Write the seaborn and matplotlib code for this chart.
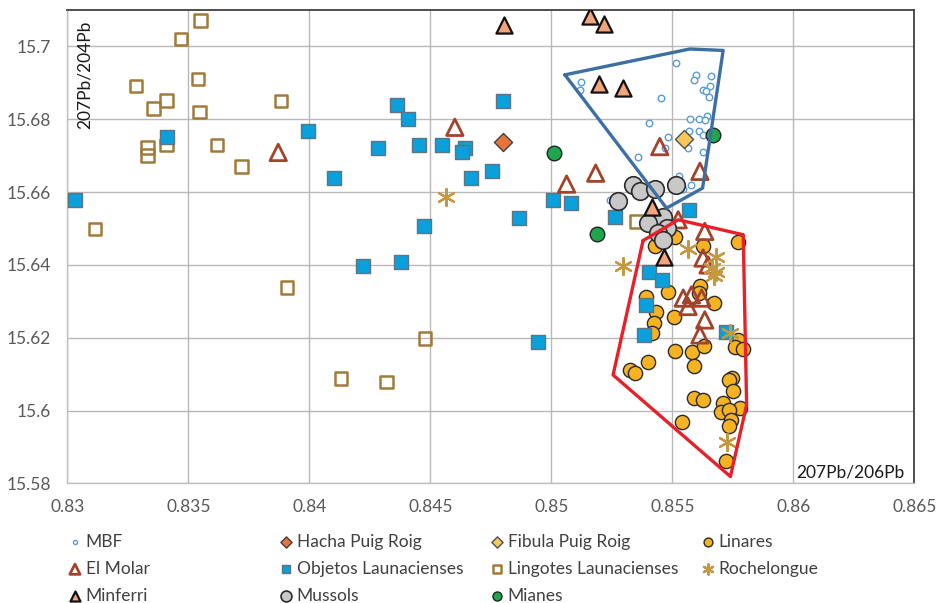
import pandas as pd
import matplotlib
matplotlib.use("Agg")
import matplotlib.pyplot as plt
import seaborn as sns
from matplotlib.ticker import FuncFormatter, MultipleLocator

# 207Pb/206Pb (x) and 207Pb/204Pb (y) per group
mbf_x = [0.85121, 0.85118, 0.85517, 0.85596, 0.85590, 0.85659, 0.85655, 0.85625, 0.85641, 0.85652,
         0.85452, 0.85644, 0.85572, 0.85610, 0.85634, 0.85404, 0.85569, 0.85610, 0.85625, 0.85480,
         0.85565, 0.85469, 0.85627, 0.85356, 0.85526, 0.85579, 0.85545, 0.85242]
mbf_y = [15.6902, 15.6881, 15.6954, 15.6922, 15.6909, 15.6920, 15.6892, 15.6881, 15.6879, 15.6860,
         15.6858, 15.6810, 15.6801, 15.6801, 15.6799, 15.6790, 15.6768, 15.6768, 15.6757, 15.6750,
         15.6721, 15.6721, 15.6710, 15.6696, 15.6643, 15.6620, 15.6608, 15.6579]

hacha_x = [0.84801]
hacha_y = [15.6737]

fibula_x = [0.85548]
fibula_y = [15.6746]

linares_x = [0.85428, 0.85625, 0.85772, 0.85480, 0.85614, 0.85611, 0.85673, 0.85432, 0.85425, 0.85393,
             0.85506, 0.85414, 0.85513, 0.85582, 0.85631, 0.85772, 0.85761, 0.85793, 0.85590, 0.85400,
             0.85324, 0.85345, 0.85745, 0.85735, 0.85751, 0.85590, 0.85625, 0.85710, 0.85779, 0.85703,
             0.85733, 0.85742, 0.85735, 0.85538, 0.85721, 0.85510]
linares_y = [15.6452, 15.6452, 15.6462, 15.6327, 15.6341, 15.6324, 15.6295, 15.6272, 15.6240, 15.6313,
             15.6258, 15.6214, 15.6164, 15.6160, 15.6178, 15.6194, 15.6176, 15.6169, 15.6123, 15.6133,
             15.6112, 15.6103, 15.6089, 15.6084, 15.6054, 15.6036, 15.6029, 15.6022, 15.6008, 15.5997,
             15.6002, 15.5975, 15.5958, 15.5968, 15.5863, 15.6478]

molar_x = [0.83871, 0.84601, 0.85063, 0.85183, 0.85448, 0.85614, 0.85524, 0.85634, 0.85627, 0.85648,
           0.85545, 0.85579, 0.85565, 0.85621, 0.85634, 0.85614]
molar_y = [15.6709, 15.6778, 15.6622, 15.6652, 15.6725, 15.6657, 15.6524, 15.6492, 15.6419, 15.6400,
           15.6309, 15.6318, 15.6286, 15.6309, 15.6249, 15.6208]

objetos_x = [0.83410, 0.83993, 0.84101, 0.83030, 0.84363, 0.84407, 0.84282, 0.84451, 0.84548, 0.84641,
             0.84631, 0.84802, 0.84669, 0.84755, 0.85007, 0.85081, 0.84866, 0.84474, 0.84221, 0.84379,
             0.84943, 0.85262, 0.85568, 0.85402, 0.85459, 0.85393, 0.85382, 0.85720]
objetos_y = [15.6751, 15.6769, 15.6639, 15.6578, 15.6840, 15.6801, 15.6721, 15.6730, 15.6730, 15.6721,
             15.6710, 15.6850, 15.6639, 15.6659, 15.6578, 15.6569, 15.6529, 15.6508, 15.6398, 15.6408,
             15.6188, 15.6533, 15.6551, 15.6380, 15.6359, 15.6290, 15.6208, 15.6215]

lingotes_x = [0.83550, 0.83469, 0.83282, 0.83540, 0.83410, 0.83355, 0.83545, 0.83882, 0.83410, 0.83330,
              0.83331, 0.83619, 0.83720, 0.83114, 0.83908, 0.84478, 0.84131, 0.84319, 0.85352]
lingotes_y = [15.7071, 15.7020, 15.6891, 15.6911, 15.6851, 15.6830, 15.6820, 15.6850, 15.6730, 15.6723,
              15.6700, 15.6730, 15.6670, 15.6499, 15.6338, 15.6198, 15.6088, 15.6078, 15.6519]

roche_x = [0.84564, 0.85294, 0.85565, 0.85680, 0.85663, 0.85680, 0.85672, 0.85738, 0.85724]
roche_y = [15.6586, 15.6396, 15.6444, 15.6423, 15.6392, 15.6381, 15.6370, 15.6213, 15.5915]

minferri_x = [0.84805, 0.85159, 0.85217, 0.85198, 0.85294, 0.85414, 0.85466]
minferri_y = [15.7060, 15.7084, 15.7062, 15.6897, 15.6885, 15.6560, 15.6423]

mussols_x = [0.85338, 0.85366, 0.85428, 0.85517, 0.85276, 0.85462, 0.85400, 0.85476, 0.85441, 0.85462]
mussols_y = [15.6620, 15.6602, 15.6608, 15.6620, 15.6576, 15.6533, 15.6515, 15.6501, 15.6487, 15.6469]

mianes_x = [0.85012, 0.85670, 0.85187]
mianes_y = [15.6707, 15.6756, 15.6486]

# outline polygons
blue_poly_x = [0.85056, 0.85572, 0.85710, 0.85625, 0.85476, 0.85056]
blue_poly_y = [15.6922, 15.6993, 15.6989, 15.6611, 15.6556, 15.6922]
red_poly_x = [0.85379, 0.85524, 0.85793, 0.85807, 0.85740, 0.85255, 0.85379]
red_poly_y = [15.6467, 15.6524, 15.6483, 15.6016, 15.5819, 15.6098, 15.6467]

sns.set_style("white")
plt.rcParams['font.family'] = ['Lato', 'DejaVu Sans']

fig = plt.figure(figsize=(9.36, 6.03), dpi=100)
ax = fig.add_axes([0.0721, 0.1982, 0.9047, 0.7852])

# name, x, y, marker, size, face, edge, linewidth, zorder
groups = [
    ("Linares", linares_x, linares_y, "o", 105, "#f5b223", "#2b2b2b", 1.0, 3),
    ("Lingotes Launacienses", lingotes_x, lingotes_y, "s", 80, "none", "#a07b3a", 1.8, 3),
    ("Objetos Launacienses", objetos_x, objetos_y, "s", 90, "#0aa0dc", "#5f7482", 1.0, 4),
    ("El Molar", molar_x, molar_y, "^", 140, "none", "#a3432b", 2.0, 5),
    ("Rochelongue", roche_x, roche_y, (6, 2, 0), 150, "#c4983e", "#c4983e", 1.6, 5),
    ("MBF", mbf_x, mbf_y, "o", 22, "white", "#5b9bd5", 1.0, 4),
    ("Hacha Puig Roig", hacha_x, hacha_y, "D", 85, "#e8733d", "#404040", 1.0, 6),
    ("Fibula Puig Roig", fibula_x, fibula_y, "D", 85, "#f6c85c", "#505050", 1.0, 6),
    ("Mianes", mianes_x, mianes_y, "o", 110, "#1fa64d", "#222222", 1.0, 6),
    ("Mussols", mussols_x, mussols_y, "o", 160, "#c8c8c8", "#2b2b2b", 1.2, 6),
    ("Minferri", minferri_x, minferri_y, "^", 135, "#f2a47c", "#111111", 1.6, 8),
]

handles = {}
for name, xs, ys, mk, s, fc, ec, lw, z in groups:
    df = pd.DataFrame({"x": xs, "y": ys})
    sns.scatterplot(data=df, x="x", y="y", marker=mk, s=s, color=fc if fc != "none" else ec,
                    facecolor=fc, edgecolor=ec, linewidth=lw, zorder=z, label=name, ax=ax, legend=False)
    handles[name] = ax.collections[-1]

sns.lineplot(x=blue_poly_x, y=blue_poly_y, sort=False, estimator=None, color="#3d6fa3",
             linewidth=2.4, zorder=7, ax=ax, legend=False)
sns.lineplot(x=red_poly_x, y=red_poly_y, sort=False, estimator=None, color="#e8202a",
             linewidth=2.4, zorder=7, ax=ax, legend=False)

if ax.get_legend() is not None:
    ax.get_legend().remove()

ax.set_xlim(0.83, 0.865)
ax.set_ylim(15.58, 15.71)
ax.xaxis.set_major_locator(MultipleLocator(0.005))
ax.yaxis.set_major_locator(MultipleLocator(0.02))
ax.xaxis.set_major_formatter(FuncFormatter(lambda v, p: f"{round(v, 4):g}"))
ax.yaxis.set_major_formatter(FuncFormatter(lambda v, p: f"{round(v, 3):g}"))
ax.tick_params(axis="both", length=0, labelsize=12.5, labelcolor="#595959")
ax.tick_params(axis="x", pad=11)
ax.tick_params(axis="y", pad=12)
ax.grid(True, color="#b8b8b8", linewidth=1)
ax.set_axisbelow(True)
ax.set_xlabel("")
ax.set_ylabel("")

for side in ["top", "right"]:
    ax.spines[side].set_color("#404040")
    ax.spines[side].set_linewidth(1.3)
for side in ["left", "bottom"]:
    ax.spines[side].set_color("#bfbfbf")
    ax.spines[side].set_linewidth(1.0)

ax.text(0.0207, 0.863, "207Pb/204Pb", rotation=90, transform=ax.transAxes,
        ha="center", va="center", fontsize=12.5, color="#1a1a1a")
ax.text(0.925, 0.024, "207Pb/206Pb", transform=ax.transAxes,
        ha="center", va="center", fontsize=12.5, color="#1a1a1a")

columns = [
    ["MBF", "El Molar", "Minferri"],
    ["Hacha Puig Roig", "Objetos Launacienses", "Mussols"],
    ["Fibula Puig Roig", "Lingotes Launacienses", "Mianes"],
    ["Linares", "Rochelongue"],
]
col_left = [68, 279, 490, 701]
for names, left in zip(columns, col_left):
    leg = fig.legend([handles[n] for n in names], names, loc="upper left",
                     bbox_to_anchor=(left / 936, 1 - 534 / 603), frameon=False,
                     borderpad=0, borderaxespad=0, handlelength=0.8, handletextpad=0.22,
                     labelspacing=0.62, markerscale=0.62, fontsize=12.5)
    for t in leg.get_texts():
        t.set_color("#404040")

plt.savefig("out.png", dpi=100)
